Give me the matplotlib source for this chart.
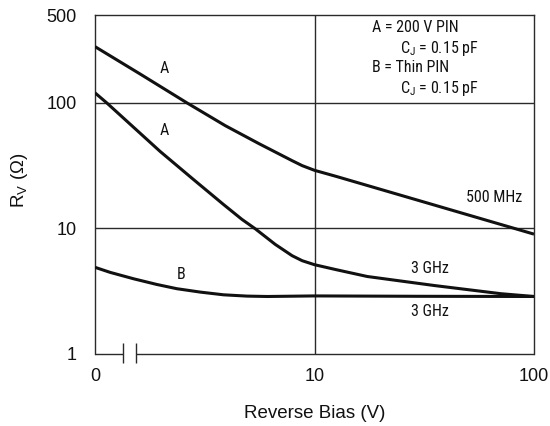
import os
import matplotlib
matplotlib.use("Agg")
import matplotlib.pyplot as plt
from matplotlib import font_manager
from matplotlib.font_manager import FontProperties

plt.rcParams["font.family"] = ["Liberation Sans", "DejaVu Sans"]


def _pick_narrow_face():
    """Return (family, stretch) of an installed narrow/condensed regular face."""
    prefs = ["liberationsansnarrow", "arialnarrow", "robotocondensed", "notosans",
             "opensans", "dejavusans", "lato", "inter"]
    found = []
    for f in font_manager.fontManager.ttflist:
        base = os.path.basename(f.fname).lower().replace("-", "").replace("_", "")
        key = (f.name + " " + base).lower()
        if not ("narrow" in key or "condensed" in key):
            continue
        if "semicondensed" in key.replace(" ", "") or "extracondensed" in key.replace(" ", ""):
            continue
        if f.style != "normal" or f.weight not in (400, "normal", "regular"):
            continue
        if any(w in base for w in ("bold", "italic", "light", "thin", "medium", "black", "semi")):
            continue
        rank = next((i for i, p in enumerate(prefs) if p in base), len(prefs))
        found.append((rank, f.name, f.stretch))
    if not found:
        return None
    found.sort()
    return found[0][1], found[0][2]


_narrow = _pick_narrow_face()
if _narrow:
    small_font = FontProperties(family=[_narrow[0]], stretch=_narrow[1], size=11.5)
else:
    small_font = FontProperties(family=["Liberation Sans"], size=10)

# Reverse bias (V); the axis origin after the break is labeled 0
bias_a_500mhz = [1.0, 1.61, 2.62, 3.92, 5.57, 7.91, 8.79, 10.0, 12.5, 31.6, 100.0]
rv_a_500mhz = [280, 169, 100, 65.8, 47.4, 34.6, 31.6, 29.0, 26.0, 16.2, 9.0]

bias_a_3ghz = [1.0, 1.13, 1.98, 2.81, 3.85, 4.67, 5.38, 6.63, 7.91, 8.79, 10.0,
               12.5, 17.4, 35.1, 70.7, 100.0]
rv_a_3ghz = [120, 100, 41.0, 24.5, 15.5, 11.8, 9.91, 7.45, 6.06, 5.53, 5.14,
             4.70, 4.14, 3.51, 3.02, 2.87]

bias_b_3ghz = [1.0, 1.17, 1.5, 1.91, 2.36, 3.02, 3.85, 4.93, 6.08, 10.0, 30.0, 100.0]
rv_b_3ghz = [4.90, 4.47, 3.97, 3.58, 3.31, 3.11, 2.96, 2.89, 2.87, 2.90, 2.88, 2.87]

x_ticks = [1, 10, 100]
x_tick_labels = ["0", "10", "100"]
y_ticks = [1, 10, 100, 500]
y_tick_labels = ["1", "10", "100", "500"]

ink = "#111111"
frame = "#2a2a2a"

fig = plt.figure(figsize=(5.5, 4.26), dpi=100)
ax = fig.add_axes([95 / 550, 72 / 426, 439 / 550, 339 / 426])
ax.set_xscale("log")
ax.set_yscale("log")
ax.set_xlim(1, 100)
ax.set_ylim(1, 500)

ax.set_xticks(x_ticks, x_tick_labels)
ax.set_yticks(y_ticks, y_tick_labels)
ax.minorticks_off()
ax.tick_params(axis="both", length=0, labelsize=13, colors=ink)
ax.tick_params(axis="x", pad=10)
ax.tick_params(axis="y", pad=13)

# Grid lines at the decades
for yv in (10, 100):
    ax.axhline(yv, color=frame, lw=1.0, zorder=1)
ax.axvline(10, color=frame, lw=1.0, zorder=1)

for side in ("top", "right", "left"):
    ax.spines[side].set_color(frame)
    ax.spines[side].set_linewidth(1.0)
ax.spines["bottom"].set_visible(False)

# Bottom axis with a break mark near the origin
b0, b1 = (123 - 95) / 439, (136 - 95) / 439
lkw = dict(transform=ax.transAxes, color=frame, lw=1.0, clip_on=False, solid_capstyle="butt")
ax.plot([0, b0], [0, 0], **lkw)
ax.plot([b1, 1], [0, 0], **lkw)
for bx in (b0, b1):
    ax.plot([bx, bx], [-0.027, 0.032], **lkw)

ckw = dict(color=ink, lw=2.2, solid_capstyle="butt", solid_joinstyle="round", zorder=3)
ax.plot(bias_a_500mhz, rv_a_500mhz, **ckw)
ax.plot(bias_a_3ghz, rv_a_3ghz, **ckw)
ax.plot(bias_b_3ghz, rv_b_3ghz, **ckw)

tkw = dict(fontproperties=small_font, color=ink, ha="center", va="center")
ax.text(2.07, 186, "A", **tkw)
ax.text(2.07, 60, "A", **tkw)
ax.text(2.47, 4.29, "B", **tkw)
ax.text(65.7, 17.5, "500 MHz", **tkw)
ax.text(33.5, 4.81, "3 GHz", **tkw)
ax.text(33.5, 2.19, "3 GHz", **tkw)

# Device key
kkw = dict(fontproperties=small_font, color=ink, va="center", ha="left")
fig.text(372 / 550, 1 - 28 / 426, "A = 200 V PIN", **kkw)
fig.text(400 / 550, 1 - 48 / 426, r"C$_\mathregular{J}$ = 0.15 pF", **kkw)
fig.text(372 / 550, 1 - 68 / 426, "B = Thin PIN", **kkw)
fig.text(400 / 550, 1 - 88 / 426, r"C$_\mathregular{J}$ = 0.15 pF", **kkw)

ax.set_xlabel("Reverse Bias (V)", fontsize=13.5, color=ink)
ax.xaxis.set_label_coords(0.5, -0.15)
ax.set_ylabel(r"R$_\mathregular{V}$ (Ω)", fontsize=13.5, color=ink)
ax.yaxis.set_label_coords(-0.148, 0.513)

fig.savefig("out.png", dpi=100)
